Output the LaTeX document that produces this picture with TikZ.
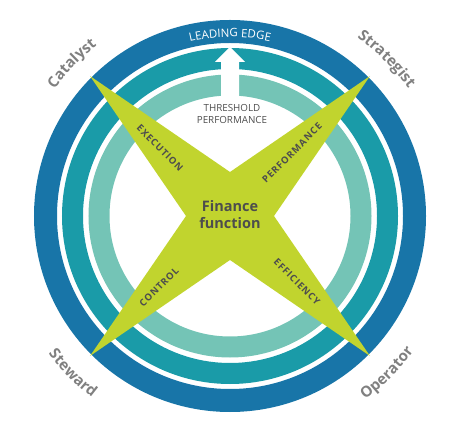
\documentclass[tikz,border=0pt]{standalone}
\usepackage{fontspec}
\setmainfont{Open Sans}
\newfontfamily\armfont[LetterSpace=9]{Open Sans}
\usetikzlibrary{decorations.text}

\definecolor{ringblue}{RGB}{24,117,168}
\definecolor{ringteal}{RGB}{26,155,168}
\definecolor{ringlight}{RGB}{116,196,182}
\definecolor{starlime}{RGB}{193,212,46}
\definecolor{rolegray}{RGB}{128,128,128}
\definecolor{inkgray}{RGB}{77,77,77}

\newcommand{\roletext}{\fontsize{15}{18}\selectfont\bfseries\color{rolegray}}
\newcommand{\edgetext}{\fontsize{11.5}{13}\selectfont\color{white}}

\tikzset{
  armlabel/.style={font=\armfont\fontsize{9.5}{11}\selectfont\bfseries, text=inkgray, inner sep=0pt},
  roleline/.style={decorate, decoration={text along path, text align=center, text={|\roletext|#1}}},
}

\begin{document}
\begin{tikzpicture}[x=1pt,y=1pt]
      \useasboundingbox (-230,-214) rectangle (232,216);

      % Three rings
      \draw[ringblue, line width=23pt] (0,0) circle[radius=184.5pt];
      \draw[ringteal, line width=21pt] (0,0) circle[radius=157.5pt];
      \draw[ringlight, line width=21pt] (0,0) circle[radius=131pt];

      % White arrow up to the leading edge
      \coordinate (arrowtip) at (0,169);
      \fill[white] (-9,110) -- (-9,154) -- (-15,154) -- (arrowtip) -- (15,154) -- (9,154) -- (9,110) -- cycle;

      % Four-pointed star
      \coordinate (tipne) at (45:198);
      \coordinate (tipnw) at (135:198);
      \coordinate (tipsw) at (225:198);
      \coordinate (tipse) at (315:198);
      \fill[starlime] (tipne) -- (90:44) -- (tipnw) -- (180:44) -- (tipsw) -- (270:44) -- (tipse) -- (0:44) -- cycle;

      % Centre and arm labels
      \node[font=\bfseries\fontsize{14.5}{17}\selectfont, text=inkgray, align=center] (finance) at (0,1) {Finance\\function};
      \node[armlabel, rotate=-45] (execution) at (-70,68) {EXECUTION};
      \node[armlabel, rotate=45] (performance) at (62,63) {PERFORMANCE};
      \node[armlabel, rotate=45] (control) at (-71,-71) {CONTROL};
      \node[armlabel, rotate=-45] (efficiency) at (67,-66) {EFFICIENCY};

      % Threshold text under the arrow
      \node[font=\fontsize{9.8}{12}\selectfont, text=inkgray, align=center] (threshold) at (2,102) {THRESHOLD\\PERFORMANCE};

      % Curved texts
      \path[decorate, decoration={text along path, text align=center, text={|\edgetext|LEADING EDGE}}]
        (110:179) arc[start angle=110, end angle=70, radius=179pt];
      \path[roleline=Catalyst] (151:216.5) arc[start angle=151, end angle=121, radius=216.5pt];
      \path[roleline=Strategist] (60:219) arc[start angle=60, end angle=30, radius=219pt];
      \path[roleline=Steward] (210:228) arc[start angle=210, end angle=240, radius=228pt];
      \path[roleline=Operator] (300:228) arc[start angle=300, end angle=330, radius=228pt];
\end{tikzpicture}
\end{document}
